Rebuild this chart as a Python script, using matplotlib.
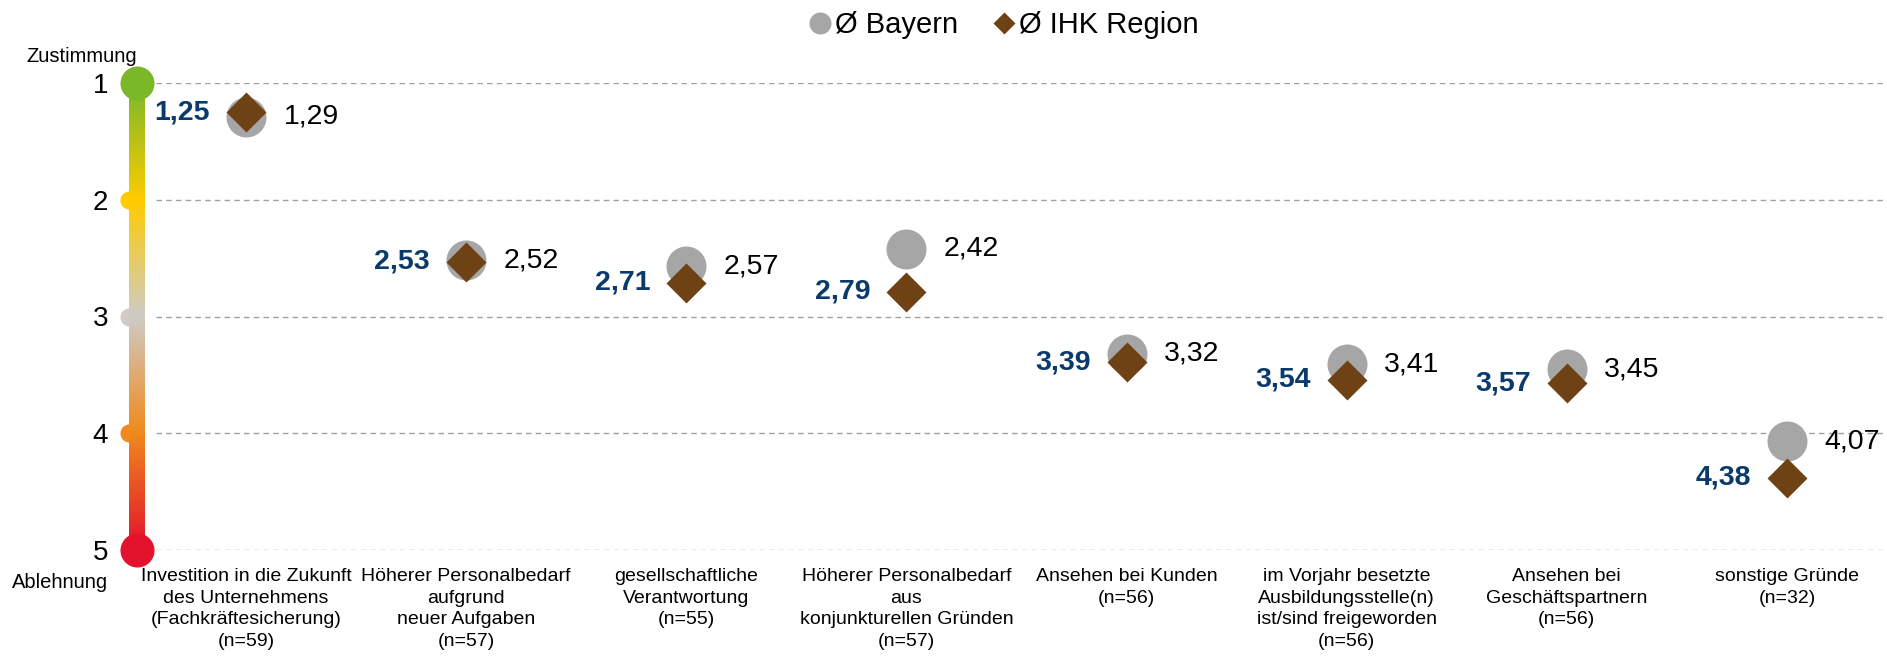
import numpy as np
import matplotlib.pyplot as plt
from matplotlib.colors import LinearSegmentedColormap

categories = [
    "Investition in die Zukunft\ndes Unternehmens\n(Fachkräftesicherung)\n(n=59)",
    "Höherer Personalbedarf\naufgrund\nneuer Aufgaben\n(n=57)",
    "gesellschaftliche\nVerantwortung\n(n=55)",
    "Höherer Personalbedarf\naus\nkonjunkturellen Gründen\n(n=57)",
    "Ansehen bei Kunden\n(n=56)",
    "im Vorjahr besetzte\nAusbildungsstelle(n)\nist/sind freigeworden\n(n=56)",
    "Ansehen bei\nGeschäftspartnern\n(n=56)",
    "sonstige Gründe\n(n=32)",
]
bayern = [1.29, 2.52, 2.57, 2.42, 3.32, 3.41, 3.45, 4.07]
ihk = [1.25, 2.53, 2.71, 2.79, 3.39, 3.54, 3.57, 4.38]
scale_ticks = [1, 2, 3, 4, 5]
scale_colors = ['#7AB829', '#FFCC00', '#CFCBC6', '#F08A1C', '#E3122D']

GREY = '#A6A6A6'
BROWN = '#6F4215'
BLUE = '#0A3A6B'
SANS = ['Liberation Sans', 'DejaVu Sans']
NARROW = ['Liberation Sans Narrow', 'Liberation Sans', 'DejaVu Sans']

plt.rcParams['font.family'] = SANS

W, H = 1887, 656
fig = plt.figure(figsize=(W / 100, H / 100), dpi=100)
# axes: left edge at the colour bar, y=1 at 83 px, y=5 at 550 px
ax = fig.add_axes([136 / W, 1 - 550 / H, 1 - 136 / W, (550 - 83) / H])

x = np.arange(len(categories))
x0 = -0.497
x1 = (W - 245.5) / 220.2

# dashed grid lines
for t in scale_ticks:
    ax.plot([-0.41, x1], [t, t], color='#A0A0A0', lw=1, ls=(0, (4, 3)), zorder=1)

# gradient scale bar
cmap = LinearSegmentedColormap.from_list('scale', list(zip([0, .25, .5, .75, 1], scale_colors)))
grad = np.linspace(0, 1, 300).reshape(-1, 1)
bw = 8 / 220.2
ax.imshow(grad, cmap=cmap, aspect='auto', extent=(x0 - bw, x0 + bw, 5, 1),
          origin='upper', clip_on=False, zorder=3)
for t, c in zip(scale_ticks, scale_colors):
    if t in (1, 5):
        ax.plot(x0, t, 'o', ms=24.5, color=c, mec='none', clip_on=False, zorder=4)
    else:
        ax.plot(x0 - 8 / 220.2, t, 'o', ms=13, color=c, mec='none', clip_on=False, zorder=2)

# markers
ax.plot(x, bayern, 'o', ms=28.8, color=GREY, mec='none', ls='none', label='Ø Bayern', zorder=5)
ax.plot(x, ihk, 'D', ms=20.4, color=BROWN, mec='none', ls='none', label='Ø IHK Region', zorder=6)

for xi, b, r in zip(x, bayern, ihk):
    ax.annotate(f"{b:.2f}".replace('.', ','), (xi, b), xytext=(27, 0), textcoords='offset points',
                ha='left', va='center', fontsize=20.5, color='black')
    ax.annotate(f"{r:.2f}".replace('.', ','), (xi, r), xytext=(-26, 0), textcoords='offset points',
                ha='right', va='center', fontsize=20.5, color=BLUE, fontweight='bold')

for xi, lab in zip(x, categories):
    ax.annotate(lab, (xi, 5), xytext=(0, -13), textcoords='offset points', ha='center', va='top',
                multialignment='center', fontsize=14, family=NARROW, linespacing=1.36,
                annotation_clip=False)

ax.set_xlim(-0.5, x1)
ax.set_ylim(5, 1)
ax.set_yticks(scale_ticks)
ax.set_xticks([])
ax.tick_params(axis='y', length=0, pad=20, labelsize=20)
for s in ax.spines.values():
    s.set_visible(False)

fig.text(82 / W, 1 - 57 / H, 'Zustimmung', ha='center', va='center', fontsize=14.5)
fig.text(60 / W, 1 - 583 / H, 'Ablehnung', ha='center', va='center', fontsize=14.5)

fig.legend(loc='center', bbox_to_anchor=(1005 / W, 1 - 25 / H), ncol=2, frameon=False,
           markerscale=0.55, handlelength=0.6, handletextpad=0.2, columnspacing=1.3,
           fontsize=21)

fig.savefig('out.png', dpi=100)
